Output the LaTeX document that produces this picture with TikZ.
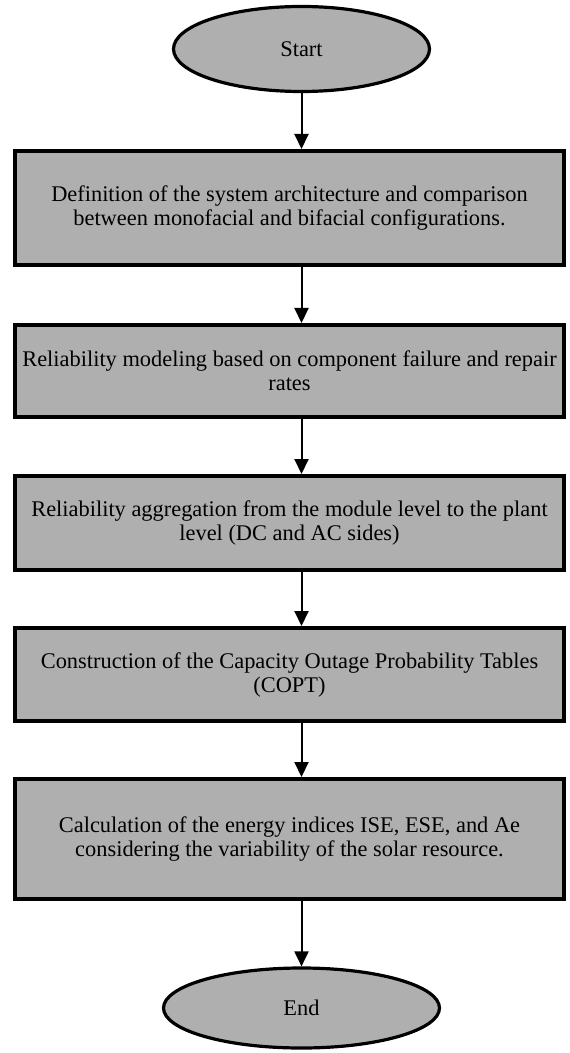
\documentclass[tikz,border=0pt]{standalone}
\usepackage{fontspec}
\setmainfont{Liberation Serif}
\usetikzlibrary{shapes.geometric, arrows.meta}

\definecolor{boxgray}{RGB}{175,175,175}

\begin{document}
\begin{tikzpicture}[x=0.5pt, y=-0.5pt,
    every node/.style={font=\fontsize{11.2pt}{12pt}\selectfont, align=center, inner sep=0pt},
    terminal/.style={ellipse, draw, fill=boxgray, line width=1.6pt},
    stepbox/.style={rectangle, draw, fill=boxgray, line width=2pt, minimum width=274.5pt},
    flow/.style={line width=1pt, -{Triangle[length=7.5pt, width=7pt]}}]
    \useasboundingbox (0,0) rectangle (569,1053);

    \node[terminal, minimum width=128pt, minimum height=42.5pt] (start) at (301.5,49) {Start};
    \node[stepbox, minimum height=57pt] (arch) at (289.5,208)
        {Definition of the system architecture and comparison\\between monofacial and bifacial configurations.};
    \node[stepbox, minimum height=46pt] (model) at (289.5,371)
        {Reliability modeling based on component failure and repair\\rates};
    \node[stepbox, minimum height=47pt] (aggr) at (289.5,523)
        {Reliability aggregation from the module level to the plant\\level (DC and AC sides)};
    \node[stepbox, minimum height=46.5pt] (copt) at (289.5,674.5)
        {Construction of the Capacity Outage Probability Tables\\(COPT)};
    \node[stepbox, minimum height=60pt] (calc) at (289.5,839)
        {Calculation of the energy indices ISE, ESE, and Ae\\considering the variability of the solar resource.};
    \node[terminal, minimum width=138pt, minimum height=40pt] (end) at (301.5,1008) {End};

    % the arrows run on the axis of the ellipses, a bit right of the box centres
    \draw[flow] (start.south) -- (start.south |- arch.north);
    \draw[flow] (arch.south -| start) -- (model.north -| start);
    \draw[flow] (model.south -| start) -- (aggr.north -| start);
    \draw[flow] (aggr.south -| start) -- (copt.north -| start);
    \draw[flow] (copt.south -| start) -- (calc.north -| start);
    \draw[flow] (calc.south -| start) -- (end.north);
\end{tikzpicture}
\end{document}
